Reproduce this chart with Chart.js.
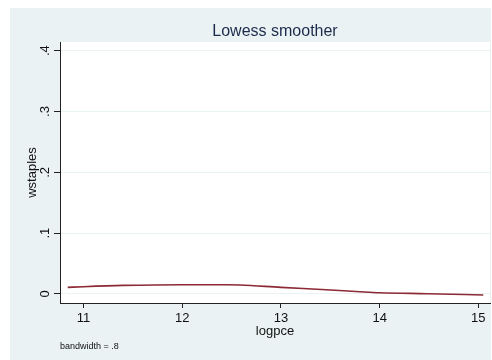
<!DOCTYPE html>
<html>
<head>
<meta charset="utf-8">
<title>Lowess smoother</title>
<script src="https://cdn.jsdelivr.net/npm/chart.js@4/dist/chart.umd.min.js"></script>
<style>
  html, body { margin: 0; padding: 0; background: #ffffff; }
  #wrap { width: 492px; height: 360px; }
</style>
</head>
<body>
<div id="wrap"><canvas id="c" width="492" height="360"></canvas></div>
<script>
// Lowess fit of wstaples on logpce
const logpce   = [10.84, 11.0, 11.4, 12.0, 12.45, 12.59, 13.0, 13.46, 13.80, 14.0, 14.48, 15.05];
const wstaples = [0.0109, 0.0120, 0.0141, 0.0153, 0.0153, 0.0148, 0.0109, 0.0071, 0.0038, 0.0021, 0.0005, -0.0016];

const xTickValues = [11, 12, 13, 14, 15];
const yTickValues = [0, 0.1, 0.2, 0.3, 0.4];
const yTickLabels = ['0', '.1', '.2', '.3', '.4'];

const FONT = "'Liberation Sans', Arial, Helvetica, sans-serif";
const BG = '#eaf2f3';
const INK = '#111111';

// graph region fill plus white plot region
const backdrop = {
  id: 'backdrop',
  beforeDraw(chart) {
    const { ctx, chartArea: a } = chart;
    ctx.save();
    ctx.fillStyle = '#ffffff';
    ctx.fillRect(0, 0, chart.width, chart.height);
    ctx.fillStyle = BG;
    ctx.fillRect(10, 8, chart.width - 11, chart.height - 8);
    ctx.fillStyle = '#ffffff';
    ctx.fillRect(a.left, a.top, a.right - a.left, a.bottom - a.top);
    ctx.restore();
  }
};

const points = logpce.map((x, i) => ({ x: x, y: wstaples[i] }));

new Chart(document.getElementById('c'), {
  type: 'line',
  data: {
    datasets: [{
      data: points,
      borderColor: '#8c2a35',
      borderWidth: 1.6,
      pointRadius: 0,
      fill: false,
      cubicInterpolationMode: 'monotone'
    }]
  },
  plugins: [backdrop],
  options: {
    responsive: false,
    devicePixelRatio: 1,
    animation: false,
    layout: { padding: { left: 0, right: 2, top: 0, bottom: 0 } },
    plugins: {
      legend: { display: false },
      tooltip: { enabled: false },
      title: {
        display: true,
        text: 'Lowess smoother',
        fullSize: false,
        color: '#1c2a4c',
        font: { family: FONT, size: 16, weight: 'normal', lineHeight: 1.0 },
        padding: { top: 23.5, bottom: 2.5 }
      },
      subtitle: {
        display: true,
        text: 'bandwidth = .8',
        position: 'bottom',
        align: 'start',
        fullSize: false,
        color: INK,
        font: { family: FONT, size: 9, weight: 'normal' },
        padding: { top: 0.6, bottom: 7.6 }
      }
    },
    scales: {
      x: {
        type: 'linear',
        position: 'bottom',
        min: 10.762,
        max: 15.118,
        afterBuildTicks(scale) { scale.ticks = xTickValues.map(v => ({ value: v })); },
        afterFit(scale) { scale.height = 38; },
        grid: { drawOnChartArea: false, tickLength: 5, tickColor: '#222222', lineWidth: 1 },
        border: { color: '#222222', width: 1 },
        ticks: {
          color: INK,
          font: { family: FONT, size: 13 },
          padding: 2.2,
          maxRotation: 0,
          autoSkip: false,
          callback: v => String(v)
        },
        title: {
          display: true,
          text: 'logpce',
          color: INK,
          font: { family: FONT, size: 13 },
          padding: { top: 0, bottom: 2.2 }
        }
      },
      y: {
        type: 'linear',
        min: -0.0148,
        max: 0.4143,
        afterBuildTicks(scale) { scale.ticks = yTickValues.map(v => ({ value: v })); },
        afterFit(scale) { scale.width = 60; },
        grid: { color: BG, lineWidth: 1, tickLength: 6, tickColor: '#222222' },
        border: { color: '#222222', width: 1 },
        ticks: {
          color: INK,
          font: { family: FONT, size: 13 },
          minRotation: 90,
          maxRotation: 90,
          crossAlign: 'center',
          padding: 3.5,
          autoSkip: false,
          callback: (v) => {
            const i = yTickValues.findIndex(t => Math.abs(t - v) < 1e-9);
            return i >= 0 ? yTickLabels[i] : '';
          }
        },
        title: {
          display: true,
          text: 'wstaples',
          color: INK,
          font: { family: FONT, size: 13 },
          padding: { top: 24.5, bottom: 0 }
        }
      }
    }
  }
});
</script>
</body>
</html>
